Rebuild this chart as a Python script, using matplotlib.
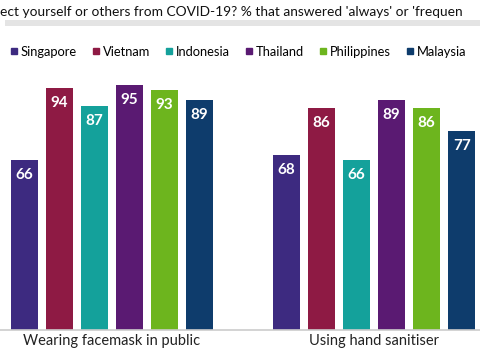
import matplotlib
matplotlib.use("Agg")
from matplotlib import pyplot as plt
from matplotlib.patches import Rectangle
from matplotlib.lines import Line2D
import numpy as np

plt.rcParams["font.family"] = ["Lato", "DejaVu Sans"]

countries = ["Singapore", "Vietnam", "Indonesia", "Thailand", "Philippines", "Malaysia"]
colors = ["#3d2a80", "#8e1a44", "#14a19b", "#5a1a72", "#6db51e", "#0e3c6c"]
categories = ["Wearing facemask in public", "Using hand sanitiser"]
facemask = [66, 94, 87, 95, 93, 89]
sanitiser = [68, 86, 66, 89, 86, 77]
values = [facemask, sanitiser]

title = "ect yourself or others from COVID-19? % that answered 'always' or 'frequen"

fig = plt.figure(figsize=(4.8, 3.54), dpi=100)
ax = fig.add_axes([0, 24/354, 1, 260/354])

group_start = [0, 7.486]
width = 0.77
for g, vals in enumerate(values):
    x = group_start[g] + np.arange(len(countries))
    bars = ax.bar(x, vals, width, color=colors, zorder=2)
    for b, v in zip(bars, vals):
        ax.text(b.get_x() + b.get_width()/2, v - 5.8, str(v), ha="center", va="center",
                color="white", fontsize=11, fontweight="bold")

ax.set_xlim(-0.7, 13.01)
ax.set_ylim(0, 100.8)
ax.set_xticks([group_start[0] + 2.5, group_start[1] + 2.5], categories, fontsize=10.5, color="#222222")
ax.tick_params(axis="x", length=0, pad=3)
ax.set_yticks([])
for s in ["top", "right", "left"]:
    ax.spines[s].set_visible(False)
ax.spines["bottom"].set_color("#cccccc")
ax.spines["bottom"].set_linewidth(1.2)

handles = [Line2D([], [], marker="s", linestyle="", color=c, markersize=5) for c in colors]
fig.legend(handles, countries, loc="center", bbox_to_anchor=(0.495, 1 - 52/354), ncol=6,
           frameon=False, fontsize=9.3, handletextpad=0.1, columnspacing=1.1, handlelength=0.8)

# title band shadow
fig.patches.append(Rectangle((5/480, 1 - 26/354), 475/480, 6/354, transform=fig.transFigure,
                             facecolor="#e4e4e4", edgecolor="none", zorder=0))
fig.text(0.0, 1 - 12/354, title, ha="left", va="center", fontsize=9.9, color="#111111")

fig.savefig("out.png", dpi=100)
